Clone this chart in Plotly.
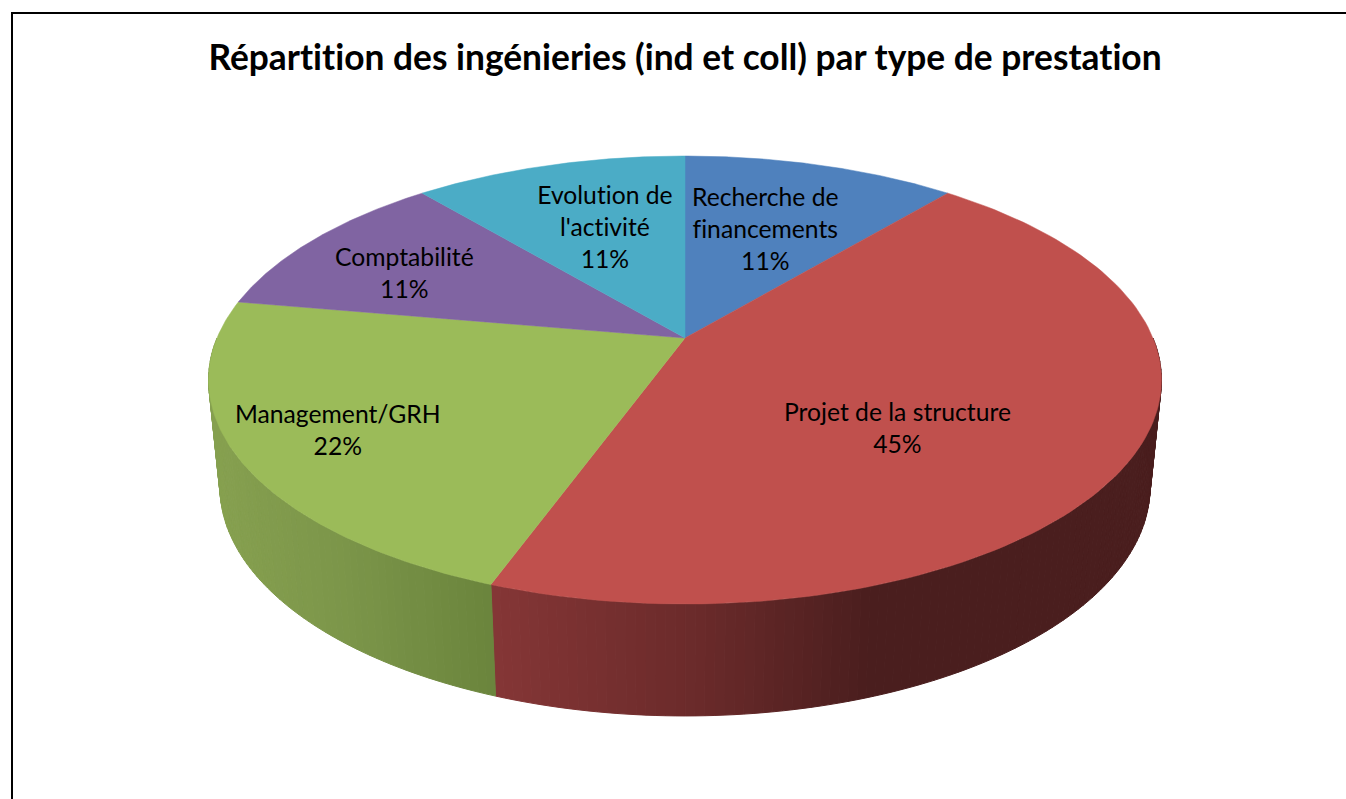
import numpy as np
import plotly.graph_objects as go

# ---- data -------------------------------------------------------------
TITLE = "Répartition des ingénieries (ind et coll) par type de prestation"
categories = ["Recherche de<br>financements", "Projet de la structure", "Management/GRH",
              "Comptabilité", "Evolution de<br>l'activité"]
values = [11.1, 44.45, 22.2, 11.15, 11.1]
percent_labels = ["11%", "45%", "22%", "11%", "11%"]

# ---- style ------------------------------------------------------------
colors = ["#4F81BD", "#C0504D", "#9BBB59", "#8064A2", "#4BACC6"]
# side-wall shading: (pixel x, colour) stops per slice
wall_shades = {
    1: [(491, (133, 54, 54)), (700, (106, 42, 42)), (870, (74, 30, 30)), (1170, (74, 30, 30))],
    2: [(205, (135, 161, 80)), (350, (123, 149, 73)), (495, (106, 132, 60))],
}
LABEL_XY = [(765, 228.5), (897, 427.5), (338, 429), (404, 272.5), (605, 226.5)]
FONT = "Lato"
LABEL_SIZE = 24.7
TITLE_SIZE = 35.35

# ---- projection of the pie disc ----------------------------------------
CX = 685
PERSP = -0.1875
TOP = dict(rx=468.0, a=338.0, b=152.75)
BOTTOM = dict(rx=456.8, a=444.0, b=137.7)


def project(theta_deg, r, d):
    t = np.radians(theta_deg)
    u, v = r * np.sin(t), -r * np.cos(t)
    w = 1 + PERSP * v
    return CX + d["rx"] * u / w, (d["a"] + d["b"] * v) / w


def shade(stops, x):
    xs = [s[0] for s in stops]
    rgb = [np.interp(x, xs, [s[1][i] for s in stops]) for i in range(3)]
    return "rgb(%d,%d,%d)" % tuple(round(c) for c in rgb)


total = sum(values)
edges = np.concatenate([[0], np.cumsum(values)]) / total * 360

fig = go.Figure()

# side walls: only the near half of the rim (90..270 deg) can be seen
for i, stops in wall_shades.items():
    a0, a1 = max(edges[i], 90), min(edges[i + 1], 270)
    steps = np.linspace(a0, a1, int((a1 - a0) / 1.0) + 2)
    for s0, s1 in zip(steps[:-1], steps[1:]):
        tx0, ty0 = project(s0, 1, TOP)
        tx1, ty1 = project(s1, 1, TOP)
        bx0, by0 = project(s0, 1, BOTTOM)
        bx1, by1 = project(s1, 1, BOTTOM)
        col = shade(stops, (tx0 + tx1 + bx0 + bx1) / 4)
        fig.add_trace(go.Scatter(
            x=[tx0, tx1, bx1, bx0, tx0], y=[ty0, ty1, by1, by0, ty0],
            mode="lines", fill="toself", fillcolor=col,
            line=dict(color=col, width=1), hoverinfo="skip", showlegend=False))

# top face
for i, name in enumerate(categories):
    th = np.linspace(edges[i], edges[i + 1], 120)
    ax, ay = project(th, 1, TOP)
    fig.add_trace(go.Scatter(
        x=np.r_[CX, ax, CX], y=np.r_[TOP["a"], ay, TOP["a"]],
        mode="lines", fill="toself", fillcolor=colors[i],
        line=dict(color=colors[i], width=0.5), name=name.replace("<br>", " "),
        hoverinfo="name", showlegend=False))

# data labels
for name, pct, (lx, ly) in zip(categories, percent_labels, LABEL_XY):
    fig.add_annotation(x=lx, y=ly, text=f"{name}<br>{pct}", showarrow=False,
                       font=dict(family=FONT, size=LABEL_SIZE, color="#000000"),
                       align="center", xanchor="center", yanchor="middle")

fig.update_layout(
    width=1346, height=799, margin=dict(l=0, r=0, t=0, b=0),
    paper_bgcolor="white", plot_bgcolor="white", showlegend=False,
    title=dict(text=f"<b>{TITLE}</b>", x=685 / 1346, xanchor="center", xref="paper",
               y=1 - 58 / 799, yanchor="middle", yref="container",
               font=dict(family=FONT, size=TITLE_SIZE, color="#000000")),
    xaxis=dict(range=[0, 1346], visible=False, fixedrange=True),
    yaxis=dict(range=[799, 0], visible=False, fixedrange=True),
    shapes=[dict(type="path", path="M 12 799 L 12 13 L 1346 13",
                 line=dict(color="#000000", width=2), layer="above")],
)

fig.write_html(
    "out.html", config=dict(displayModeBar=False),
    post_script="document.body.style.margin='0';document.body.style.overflow='hidden';"
                "var s=document.createElement('style');"
                "s.textContent='svg text{font-variant-ligatures:none !important;"
                "font-feature-settings:\"liga\" 0,\"clig\" 0 !important;}';"
                "document.head.appendChild(s);")
